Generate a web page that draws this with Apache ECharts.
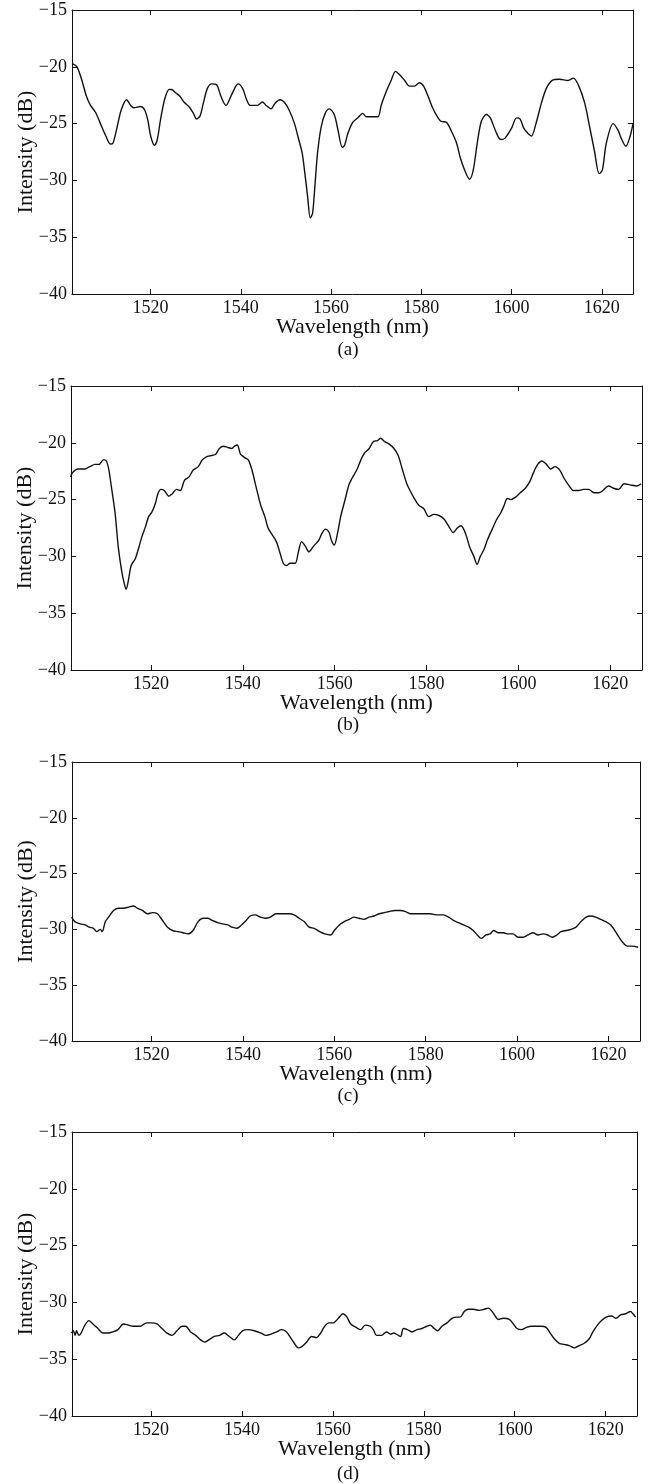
<!DOCTYPE html>
<html>
<head>
<meta charset="utf-8">
<style>
  html, body { margin: 0; padding: 0; background: #fff; }
  #chart { width: 649px; height: 1484px; }
</style>
</head>
<body>
<div id="chart"></div>
<script src="https://cdn.jsdelivr.net/npm/echarts@6/dist/echarts.min.js"></script>
<script>
// spectra: [wavelength (nm), intensity (dB)]
var specA = [[1502.6,-19.7],[1503.7,-20.0],[1504.8,-21.2],[1505.8,-22.6],[1506.7,-23.4],[1507.8,-24.0],[1508.9,-25.0],[1510.0,-26.0],[1511.1,-26.8],[1511.7,-26.7],[1512.6,-25.3],[1513.5,-23.8],[1514.7,-22.9],[1515.6,-23.4],[1516.3,-23.6],[1517.8,-23.5],[1518.7,-23.8],[1519.4,-24.7],[1520.1,-26.2],[1520.9,-26.9],[1521.5,-26.4],[1522.2,-24.7],[1523.1,-22.9],[1524.1,-22.0],[1524.6,-22.0],[1525.6,-22.3],[1526.5,-22.6],[1527.4,-23.1],[1528.5,-23.5],[1529.5,-24.1],[1530.2,-24.6],[1531.0,-24.3],[1531.7,-23.2],[1532.6,-21.9],[1533.6,-21.5],[1534.7,-21.6],[1535.6,-22.6],[1536.7,-23.4],[1537.8,-22.6],[1538.9,-21.7],[1539.4,-21.5],[1540.4,-21.9],[1541.3,-22.9],[1542.1,-23.4],[1543.7,-23.4],[1544.8,-23.1],[1545.6,-23.4],[1546.7,-23.7],[1547.6,-23.2],[1548.7,-22.9],[1549.6,-23.1],[1550.7,-23.8],[1551.9,-25.0],[1552.7,-26.2],[1553.6,-27.6],[1554.2,-29.4],[1554.8,-31.4],[1555.4,-33.3],[1555.9,-32.9],[1556.4,-30.6],[1557.0,-27.6],[1557.8,-25.3],[1558.7,-24.1],[1559.6,-23.7],[1560.7,-24.2],[1561.5,-25.5],[1562.5,-27.1],[1563.0,-26.9],[1563.7,-25.9],[1564.8,-24.9],[1565.9,-24.5],[1567.0,-24.1],[1567.8,-24.4],[1569.3,-24.4],[1570.4,-24.4],[1571.1,-23.4],[1572.2,-22.2],[1573.3,-21.2],[1574.3,-20.4],[1575.2,-20.7],[1576.3,-21.2],[1577.4,-21.7],[1578.5,-21.7],[1579.6,-21.4],[1580.5,-21.7],[1581.5,-22.6],[1582.6,-23.7],[1583.7,-24.5],[1584.4,-24.8],[1585.6,-24.9],[1586.7,-25.7],[1587.8,-26.7],[1588.7,-28.1],[1589.9,-29.4],[1590.7,-29.9],[1591.5,-29.1],[1592.4,-26.7],[1593.3,-24.8],[1594.4,-24.2],[1595.3,-24.5],[1596.5,-25.7],[1597.6,-26.4],[1598.5,-26.3],[1600.0,-25.4],[1601.1,-24.5],[1601.9,-24.6],[1602.7,-25.4],[1603.7,-25.9],[1604.4,-26.1],[1605.4,-25.0],[1606.6,-23.2],[1607.7,-21.9],[1609.0,-21.2],[1610.6,-21.1],[1612.5,-21.2],[1613.7,-21.0],[1614.9,-21.7],[1616.2,-23.2],[1617.3,-25.3],[1618.4,-27.5],[1619.4,-29.4],[1620.1,-29.1],[1621.0,-26.7],[1622.5,-25.0],[1623.6,-25.6],[1624.3,-26.3],[1625.3,-27.0],[1626.2,-26.2],[1626.9,-25.0]];

var specB = [[1502.5,-23.0],[1503.0,-22.6],[1504.1,-22.3],[1505.6,-22.3],[1506.7,-22.1],[1507.8,-21.9],[1508.7,-21.9],[1509.6,-21.5],[1510.0,-21.5],[1510.7,-22.1],[1511.4,-23.9],[1512.2,-26.2],[1512.9,-29.2],[1513.6,-31.2],[1514.2,-32.4],[1514.6,-32.9],[1515.1,-32.1],[1515.7,-30.8],[1516.6,-30.2],[1517.3,-29.3],[1518.0,-28.3],[1518.8,-27.4],[1519.5,-26.5],[1520.2,-26.1],[1521.0,-25.3],[1521.5,-24.5],[1522.2,-24.1],[1522.9,-24.2],[1523.9,-24.7],[1524.6,-24.5],[1525.6,-24.1],[1526.4,-24.2],[1527.3,-23.3],[1528.3,-23.0],[1529.2,-22.4],[1530.3,-22.1],[1531.2,-21.5],[1532.3,-21.2],[1533.4,-21.1],[1534.1,-21.0],[1534.9,-20.5],[1535.8,-20.3],[1536.7,-20.4],[1537.6,-20.5],[1538.2,-20.3],[1538.8,-20.2],[1539.5,-21.0],[1540.4,-21.3],[1541.2,-21.5],[1542.0,-22.4],[1542.9,-23.9],[1543.9,-25.5],[1544.8,-26.5],[1545.5,-27.5],[1546.4,-28.1],[1547.3,-28.7],[1548.1,-29.7],[1548.8,-30.6],[1549.5,-30.8],[1550.3,-30.6],[1551.4,-30.6],[1552.1,-29.6],[1552.8,-28.7],[1553.6,-29.1],[1554.4,-29.6],[1555.4,-29.1],[1556.5,-28.6],[1557.2,-28.0],[1558.0,-27.6],[1558.8,-27.9],[1559.3,-28.6],[1559.9,-29.0],[1560.6,-28.0],[1561.3,-26.5],[1562.2,-25.1],[1563.1,-23.7],[1563.8,-23.1],[1564.8,-22.4],[1565.7,-21.5],[1566.5,-20.9],[1567.5,-20.5],[1568.4,-19.9],[1569.3,-19.8],[1570.0,-19.6],[1570.9,-19.9],[1571.8,-20.1],[1572.9,-20.5],[1573.8,-21.1],[1574.7,-22.3],[1575.7,-23.6],[1576.4,-24.2],[1577.2,-24.8],[1578.3,-25.5],[1579.4,-25.8],[1580.5,-26.5],[1581.6,-26.3],[1582.7,-26.4],[1583.8,-26.7],[1584.9,-27.4],[1585.8,-27.9],[1586.7,-27.5],[1587.5,-27.3],[1588.5,-28.0],[1589.4,-29.2],[1590.3,-30.0],[1591.0,-30.7],[1591.7,-30.0],[1592.5,-29.4],[1593.3,-28.5],[1594.3,-27.6],[1595.2,-26.8],[1596.1,-26.2],[1596.8,-25.6],[1597.6,-24.9],[1598.4,-25.0],[1599.3,-24.8],[1600.4,-24.4],[1601.5,-24.0],[1602.5,-23.4],[1603.3,-22.6],[1604.2,-21.9],[1605.1,-21.6],[1606.1,-21.9],[1607.0,-22.3],[1608.0,-22.1],[1609.0,-22.4],[1609.9,-23.1],[1610.9,-23.7],[1612.0,-24.2],[1613.1,-24.2],[1614.2,-24.1],[1615.3,-24.1],[1616.4,-24.4],[1617.5,-24.4],[1618.4,-24.2],[1619.6,-23.8],[1620.7,-24.0],[1621.8,-24.1],[1623.0,-23.6],[1624.3,-23.7],[1625.8,-23.8],[1626.7,-23.6]];

var specC = [[1502.5,-28.9],[1503.2,-29.3],[1504.4,-29.5],[1505.5,-29.6],[1506.4,-29.8],[1507.3,-29.9],[1508.0,-30.2],[1508.8,-30.0],[1509.2,-30.2],[1509.9,-29.3],[1510.6,-28.9],[1511.7,-28.3],[1512.8,-28.1],[1513.9,-28.1],[1515.0,-28.0],[1516.0,-27.9],[1516.9,-28.1],[1518.0,-28.3],[1519.1,-28.6],[1520.2,-28.5],[1521.3,-28.6],[1522.4,-29.2],[1523.5,-29.8],[1524.6,-30.1],[1525.8,-30.2],[1526.9,-30.3],[1528.0,-30.4],[1529.1,-30.1],[1530.2,-29.3],[1531.3,-29.0],[1532.3,-29.0],[1533.3,-29.2],[1534.5,-29.4],[1535.5,-29.5],[1536.7,-29.6],[1537.6,-29.8],[1538.7,-29.9],[1539.7,-29.6],[1540.7,-29.2],[1541.6,-28.8],[1542.7,-28.7],[1543.8,-28.9],[1544.9,-29.0],[1546.0,-28.9],[1547.2,-28.6],[1548.3,-28.6],[1549.4,-28.6],[1550.1,-28.6],[1551.2,-28.7],[1552.3,-29.0],[1553.4,-29.3],[1554.5,-29.8],[1555.6,-29.9],[1556.8,-30.2],[1557.9,-30.4],[1559.2,-30.5],[1560.0,-30.1],[1561.1,-29.6],[1562.2,-29.3],[1563.3,-29.1],[1564.3,-28.9],[1565.4,-29.0],[1566.5,-29.1],[1567.6,-28.9],[1568.7,-28.8],[1569.8,-28.6],[1570.9,-28.5],[1572.0,-28.4],[1573.2,-28.3],[1574.5,-28.3],[1575.6,-28.4],[1576.7,-28.6],[1578.1,-28.6],[1579.6,-28.6],[1581.0,-28.6],[1582.5,-28.7],[1583.9,-28.7],[1585.0,-28.9],[1586.1,-29.2],[1587.2,-29.4],[1588.3,-29.6],[1589.4,-29.8],[1590.4,-30.1],[1591.3,-30.5],[1592.2,-30.8],[1593.2,-30.5],[1594.1,-30.4],[1594.9,-30.1],[1595.9,-30.3],[1597.0,-30.3],[1598.0,-30.4],[1599.1,-30.4],[1600.2,-30.7],[1601.3,-30.7],[1602.4,-30.5],[1603.5,-30.3],[1604.6,-30.5],[1605.7,-30.4],[1606.7,-30.5],[1607.7,-30.7],[1608.7,-30.5],[1609.6,-30.2],[1610.7,-30.1],[1611.8,-30.0],[1612.9,-29.8],[1614.0,-29.3],[1615.1,-28.9],[1616.2,-28.8],[1617.2,-28.9],[1618.3,-29.1],[1619.4,-29.3],[1620.5,-29.6],[1621.4,-30.1],[1622.3,-30.7],[1623.2,-31.2],[1624.1,-31.5],[1625.2,-31.5],[1626.5,-31.6]];

var specD = [[1502.5,-32.7],[1502.9,-32.5],[1503.3,-32.9],[1503.6,-32.5],[1504.1,-32.9],[1504.6,-32.7],[1505.3,-32.1],[1506.3,-31.6],[1507.2,-31.9],[1508.3,-32.3],[1509.4,-32.7],[1510.5,-32.7],[1511.6,-32.6],[1512.7,-32.4],[1513.9,-31.9],[1515.0,-32.0],[1516.1,-32.1],[1517.6,-32.1],[1519.0,-31.8],[1520.1,-31.8],[1521.3,-31.9],[1522.4,-32.3],[1523.5,-32.7],[1524.6,-32.9],[1525.7,-32.5],[1526.8,-32.1],[1527.6,-32.1],[1528.7,-32.6],[1529.8,-32.9],[1530.9,-33.3],[1531.8,-33.5],[1532.7,-33.3],[1533.9,-33.0],[1535.0,-32.9],[1536.1,-32.7],[1537.2,-33.0],[1538.3,-33.3],[1539.2,-32.9],[1540.1,-32.5],[1541.3,-32.4],[1542.7,-32.5],[1544.2,-32.7],[1545.3,-32.9],[1546.4,-32.8],[1547.6,-32.6],[1548.7,-32.4],[1549.8,-32.6],[1550.5,-33.0],[1551.5,-33.6],[1552.4,-34.0],[1553.1,-33.9],[1554.2,-33.5],[1555.3,-33.0],[1556.4,-33.1],[1557.3,-32.7],[1558.2,-32.1],[1559.1,-31.8],[1560.1,-31.8],[1561.2,-31.4],[1562.2,-31.0],[1563.1,-31.3],[1563.9,-31.9],[1565.1,-32.2],[1566.1,-32.4],[1567.1,-32.0],[1568.2,-32.1],[1568.9,-32.4],[1569.6,-32.9],[1570.7,-32.9],[1571.8,-32.6],[1572.7,-32.8],[1573.4,-32.7],[1574.4,-32.9],[1574.9,-33.0],[1575.5,-32.3],[1576.4,-32.4],[1577.4,-32.6],[1578.5,-32.4],[1579.6,-32.3],[1580.7,-32.1],[1581.4,-32.0],[1582.3,-32.3],[1583.0,-32.5],[1584.0,-32.1],[1585.1,-31.8],[1586.2,-31.4],[1587.3,-31.3],[1588.0,-31.3],[1588.9,-30.8],[1589.8,-30.6],[1590.9,-30.6],[1592.2,-30.7],[1593.3,-30.6],[1594.2,-30.5],[1595.2,-30.9],[1596.4,-31.5],[1597.5,-31.4],[1598.8,-31.5],[1599.7,-31.9],[1600.5,-32.3],[1601.5,-32.4],[1602.6,-32.2],[1603.7,-32.1],[1604.8,-32.1],[1605.8,-32.1],[1606.9,-32.2],[1607.8,-32.7],[1608.7,-33.2],[1609.8,-33.6],[1610.9,-33.7],[1612.0,-33.8],[1613.1,-34.0],[1614.2,-33.8],[1615.3,-33.6],[1616.4,-33.2],[1617.2,-32.6],[1618.2,-32.0],[1619.1,-31.6],[1620.1,-31.3],[1621.3,-31.2],[1622.3,-31.4],[1623.3,-31.1],[1624.4,-31.0],[1625.5,-30.8],[1626.0,-31.0],[1626.6,-31.3]];

var panelLabels = ['(a)', '(b)', '(c)', '(d)'];
var xTitle = 'Wavelength (nm)';
var yTitle = 'Intensity (dB)';
var xRange = [1502.6, 1626.9];
var yRange = [-40, -15];

var FONT = "'Liberation Serif', 'DejaVu Serif', serif";
var INK = '#111';

var boxes = [
  { left: 72, top: 10,   width: 561, height: 284, labelY: 350 },
  { left: 71, top: 386,  width: 571, height: 284, labelY: 725 },
  { left: 72, top: 762,  width: 568, height: 279, labelY: 1096 },
  { left: 72, top: 1132, width: 565, height: 284, labelY: 1474 }
];
var specs = [specA, specB, specC, specD];

function minus(v) { return String(v).replace('-', '\u2212'); }

var grids = [], xAxes = [], yAxes = [], series = [], texts = [];

boxes.forEach(function (b, i) {
  grids.push({ left: b.left, top: b.top, width: b.width, height: b.height, containLabel: false });

  var lineStyle = { color: INK, width: 1 };
  // bottom axis with labels
  xAxes.push({
    type: 'value', gridIndex: i, position: 'bottom', min: xRange[0], max: xRange[1],
    axisLine: { show: true, onZero: false, lineStyle: lineStyle },
    axisTick: { show: true, inside: true, length: 5, lineStyle: lineStyle },
    axisLabel: {
      show: true, margin: 5, color: INK, fontFamily: FONT, fontSize: 18,
      showMinLabel: false, showMaxLabel: false,
      formatter: function (v) { return v % 20 === 0 ? String(v) : ''; }
    },
    splitLine: { show: false },
    name: xTitle, nameLocation: 'middle', nameGap: 22, nameMoveOverlap: false,
    nameTextStyle: { color: INK, fontFamily: FONT, fontSize: 22 }
  });
  // top axis, ticks only (box)
  xAxes.push({
    type: 'value', gridIndex: i, position: 'top', min: xRange[0], max: xRange[1],
    axisLine: { show: true, onZero: false, lineStyle: lineStyle },
    axisTick: { show: true, inside: true, length: 5, lineStyle: lineStyle },
    axisLabel: { show: false },
    splitLine: { show: false }
  });
  yAxes.push({
    type: 'value', gridIndex: i, position: 'left', min: yRange[0], max: yRange[1], interval: 5,
    axisLine: { show: true, onZero: false, lineStyle: lineStyle },
    axisTick: { show: true, inside: true, length: 5, lineStyle: lineStyle },
    axisLabel: { show: true, margin: 5, color: INK, fontFamily: FONT, fontSize: 18, formatter: minus },
    splitLine: { show: false },
    name: yTitle, nameLocation: 'middle', nameGap: 35, nameRotate: 90, nameMoveOverlap: false,
    nameTextStyle: { color: INK, fontFamily: FONT, fontSize: 22 }
  });
  yAxes.push({
    type: 'value', gridIndex: i, position: 'right', min: yRange[0], max: yRange[1], interval: 5,
    axisLine: { show: true, onZero: false, lineStyle: lineStyle },
    axisTick: { show: true, inside: true, length: 5, lineStyle: lineStyle },
    axisLabel: { show: false },
    splitLine: { show: false }
  });

  series.push({
    type: 'line', xAxisIndex: 2 * i, yAxisIndex: 2 * i,
    data: specs[i], showSymbol: false, smooth: 0.3, silent: true,
    lineStyle: { color: INK, width: 1.4 }
  });

  texts.push({
    type: 'text', x: 348, y: b.labelY,
    style: { text: panelLabels[i], font: '19px ' + FONT, fill: INK,
             align: 'center', verticalAlign: 'middle', textAlign: 'center', textVerticalAlign: 'middle' }
  });
});

var chart = echarts.init(document.getElementById('chart'), null, { renderer: 'canvas' });
chart.setOption({
  animation: false,
  backgroundColor: '#fff',
  grid: grids,
  xAxis: xAxes,
  yAxis: yAxes,
  series: series,
  graphic: texts
});
</script>
</body>
</html>
